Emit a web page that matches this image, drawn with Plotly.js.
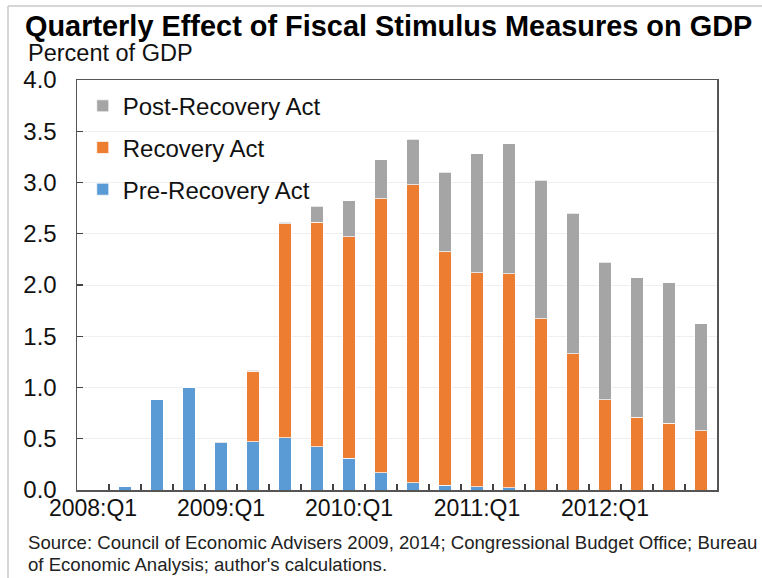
<!DOCTYPE html>
<html>
<head>
<meta charset="utf-8">
<script src="https://cdn.plot.ly/plotly-3.0.1.min.js"></script>
<style>html,body{margin:0;padding:0;background:#fff;}#chart{width:762px;height:578px;}</style>
</head>
<body>
<div id="chart"></div>
<script>
var quarters = ["2008:Q1","2008:Q2","2008:Q3","2008:Q4","2009:Q1","2009:Q2","2009:Q3","2009:Q4",
  "2010:Q1","2010:Q2","2010:Q3","2010:Q4","2011:Q1","2011:Q2","2011:Q3","2011:Q4",
  "2012:Q1","2012:Q2","2012:Q3","2012:Q4"];
var tickLabels = ["2008:Q1","","","","2009:Q1","","","","2010:Q1","","","","2011:Q1","","","","2012:Q1","","",""];
var preRecovery = [0, 0.03, 0.88, 1.00, 0.46, 0.47, 0.51, 0.42, 0.31, 0.17, 0.07, 0.046, 0.032, 0.02, 0, 0, 0, 0, 0, 0];
var recovery = [0, 0, 0, 0, 0, 0.69, 2.09, 2.19, 2.16, 2.67, 2.91, 2.28, 2.09, 2.09, 1.67, 1.33, 0.88, 0.71, 0.65, 0.58];
var postRecovery = [0, 0, 0, 0, 0.01, 0.01, 0.01, 0.16, 0.35, 0.38, 0.44, 0.775, 1.16, 1.27, 1.35, 1.37, 1.34, 1.36, 1.37, 1.04];
var seriesNames = ["Pre-Recovery Act", "Recovery Act", "Post-Recovery Act"];
var seriesColors = ["#5B9BD5", "#ED7D31", "#A5A5A5"];

var FONT = "Liberation Sans, Arial, sans-serif";
var vals = [preRecovery, recovery, postRecovery];
var traces = vals.map(function (v, i) {
  return {
    type: "bar", x: quarters, y: v, name: seriesNames[i], legendgroup: "g" + i,
    legendrank: 3 - i,
    marker: { color: seriesColors[i], line: { color: "rgba(255,255,255,0.7)", width: 1 } },
    hoverinfo: "x+y+name"
  };
});

var layout = {
  width: 762, height: 578,
  margin: { l: 77, r: 45, t: 80, b: 88 },
  paper_bgcolor: "#fff", plot_bgcolor: "#fff",
  barmode: "stack", bargap: 0.6,
  font: { family: FONT, color: "#111" },
  title: { text: "Quarterly Effect of Fiscal Stimulus Measures on GDP",
    font: { family: FONT, size: 28.9, weight: 700, color: "#000" },
    x: 25 / 762, xanchor: "left", y: 1 - 26 / 578, yanchor: "middle" },
  showlegend: true,
  legend: { x: 0.009, y: 0.991, xanchor: "left", yanchor: "top", traceorder: "grouped",
    tracegroupgap: 7.5, font: { family: FONT, size: 24, color: "#111" }, bgcolor: "rgba(0,0,0,0)" },
  xaxis: { type: "category", tickvals: quarters, ticktext: tickLabels, tickson: "boundaries",
    ticks: "inside", ticklen: 6, tickwidth: 1.3, tickcolor: "#444",
    showline: true, linecolor: "#555", linewidth: 1.5, mirror: true,
    showgrid: false, tickangle: 0, ticklabelstandoff: -3,
    tickfont: { family: FONT, size: 23, color: "#111" } },
  yaxis: { range: [0, 4], dtick: 0.5, tickformat: ".1f", ticks: "inside", ticklen: 6, tickwidth: 1.3,
    tickcolor: "#444", showline: true, linecolor: "#555", linewidth: 1.5, mirror: true,
    showgrid: true, gridcolor: "#EFEFEF", gridwidth: 1, zeroline: false, ticklabelstandoff: 14,
    tickfont: { family: FONT, size: 24, color: "#111" } },
  annotations: [
    { text: "Percent of GDP", xref: "paper", yref: "paper", x: (26 - 77) / 640, y: 1 + (80 - 53) / 410,
      xanchor: "left", yanchor: "middle", showarrow: false, font: { family: FONT, size: 23.5, color: "#111" } },
    { text: "Source: Council of Economic Advisers 2009, 2014; Congressional Budget Office; Bureau",
      xref: "paper", yref: "paper", x: (26 - 77) / 640, y: (490 - 542.5) / 410,
      xanchor: "left", yanchor: "middle", showarrow: false, font: { family: FONT, size: 18.6, color: "#222" } },
    { text: "of Economic Analysis; author's calculations.",
      xref: "paper", yref: "paper", x: (26 - 77) / 640, y: (490 - 564.5) / 410,
      xanchor: "left", yanchor: "middle", showarrow: false, font: { family: FONT, size: 18.6, color: "#222" } }
  ],
  shapes: [
    { type: "line", xref: "paper", yref: "paper", x0: (8 - 77) / 640, x1: (770 - 77) / 640,
      y0: 1 + (80 - 6) / 410, y1: 1 + (80 - 6) / 410, line: { color: "#C8C8C8", width: 1.5 } },
    { type: "line", xref: "paper", yref: "paper", x0: (8 - 77) / 640, x1: (8 - 77) / 640,
      y0: 1 + (80 - 6) / 410, y1: (490 - 590) / 410, line: { color: "#C8C8C8", width: 1.5 } }
  ]
};

Plotly.newPlot("chart", traces, layout, { displayModeBar: false, staticPlot: true });
</script>
</body>
</html>
